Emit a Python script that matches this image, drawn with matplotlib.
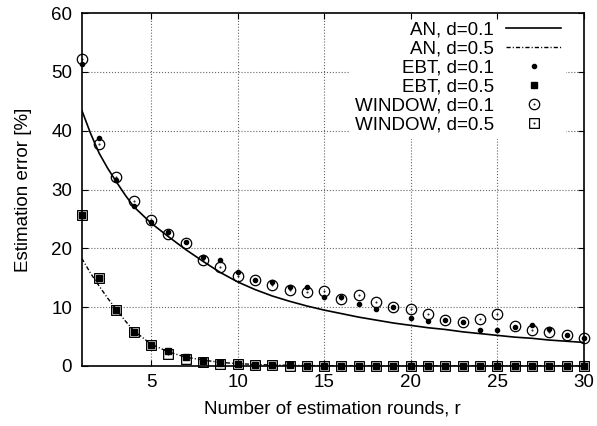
import matplotlib
matplotlib.use('Agg')
import matplotlib.pyplot as plt
from matplotlib.path import Path
from matplotlib.markers import MarkerStyle
import numpy as np

plt.rcParams['font.family'] = ['Liberation Sans', 'DejaVu Sans']
plt.rcParams['font.size'] = 13.5

# rounds
r = np.arange(1, 31)

# analytical curves
an_x = [1, 1.5, 2, 2.5, 3, 3.5, 4, 5, 6, 7, 8, 9, 10, 11, 12, 13, 14, 15,
        16, 17, 18, 19, 20, 21, 22, 23, 24, 25, 26, 27, 28, 29, 30]
an_01 = [43.5, 39.6, 36.2, 33.6, 31.3, 29.1, 27.1, 24.3, 22.0, 19.8, 17.8, 15.9,
         14.3, 13.0, 11.9, 11.0, 10.2, 9.5, 8.9, 8.3, 7.8, 7.3, 6.9, 6.5, 6.2,
         5.8, 5.5, 5.2, 4.9, 4.7, 4.4, 4.2, 4.0]
an_05 = [18.3, 15.8, 13.6, 11.5, 9.6, 7.7, 6.0, 3.7, 2.4, 1.5, 1.0, 0.6, 0.4,
         0.25, 0.15, 0.1, 0.06, 0.04, 0.02, 0.01, 0, 0, 0, 0, 0, 0, 0, 0, 0,
         0, 0, 0, 0]

# simulation results
ebt_01 = [51.3, 38.8, 31.6, 27.2, 24.5, 22.7, 21.1, 18.5, 18.0, 15.9,
          14.6, 14.2, 13.4, 13.4, 11.8, 11.7, 10.5, 9.6, 10.0, 8.2,
          7.6, 7.8, 7.4, 6.1, 6.1, 6.6, 7.0, 6.2, 5.3, 4.8]
win_01 = [52.2, 37.7, 32.2, 28.1, 24.8, 22.4, 20.9, 18.1, 16.9, 15.3,
          14.6, 13.8, 13.0, 12.6, 12.8, 11.4, 12.1, 10.9, 10.0, 9.6,
          8.9, 7.8, 7.4, 8.0, 8.9, 6.8, 6.1, 5.7, 5.2, 4.8]
ebt_05 = [25.7, 14.9, 9.5, 5.8, 3.6, 2.55, 1.5, 0.8, 0.45, 0.3,
          0.2, 0.15, 0.1, 0.05, 0, 0, 0, 0, 0, 0,
          0, 0, 0, 0, 0, 0, 0, 0, 0, 0]
win_05 = [25.7, 14.9, 9.5, 5.8, 3.6, 2.0, 1.2, 0.75, 0.4, 0.3,
          0.2, 0.1, 0.05, 0, 0, 0, 0, 0, 0, 0,
          0, 0, 0, 0, 0, 0, 0, 0, 0, 0]

xticks = [5, 10, 15, 20, 25, 30]
yticks = [0, 10, 20, 30, 40, 50, 60]

# circle / square with a dot in the middle (gnuplot style)
circ_dot = MarkerStyle(Path.make_compound_path(Path.unit_circle(),
                                               Path.circle((0, 0), 0.07)))
sq = Path.unit_rectangle()
sq = Path(sq.vertices - 0.5, sq.codes)
sq_dot = MarkerStyle(Path.make_compound_path(sq, Path.circle((0, 0), 0.04)))

fig = plt.figure(figsize=(5.97, 4.26), dpi=100)
ax = fig.add_axes([0.137, 0.141, 0.841, 0.828])

# dotted grid drawn by hand so the legend box can sit between grid and ticks
for xv in xticks[:-1]:
    ax.axvline(xv, ls=':', lw=0.8, color='0.4', zorder=1)
for yv in yticks[1:-1]:
    ax.axhline(yv, ls=':', lw=0.8, color='0.4', zorder=1)

ax.plot(an_x, an_01, color='black', lw=1.2, label='AN, d=0.1', zorder=3)
ax.plot(an_x, an_05, color='black', lw=1.0, dashes=(3, 1.5, 0.8, 1.5),
        label='AN, d=0.5', zorder=3)
ax.plot(r, ebt_01, 'o', color='black', ms=3, label='EBT, d=0.1',
        zorder=6, clip_on=False)
ax.plot(r, ebt_05, 's', color='black', ms=4.5, label='EBT, d=0.5',
        zorder=6, clip_on=False)
ax.plot(r, win_01, ls='none', marker=circ_dot, mfc='none', mec='black',
        mew=0.9, ms=7.5, label='WINDOW, d=0.1', zorder=5, clip_on=False)
ax.plot(r, win_05, ls='none', marker=sq_dot, mfc='none', mec='black',
        mew=0.9, ms=7.0, label='WINDOW, d=0.5', zorder=5, clip_on=False)

ax.set_xlim(1, 30)
ax.set_ylim(0, 60)
ax.set_xticks(xticks)
ax.set_yticks(yticks)
ax.set_axisbelow(False)
ax.tick_params(direction='in', top=True, right=True, length=4, width=0.8,
               labelsize=13.5)
ax.tick_params(axis='x', pad=6)
ax.tick_params(axis='y', pad=7)
for s in ax.spines.values():
    s.set_linewidth(1.2)
    s.set_zorder(8)

ax.set_xlabel('Number of estimation rounds, r', fontsize=13.5, labelpad=7)
ax.set_ylabel('Estimation error [%]', fontsize=13.5, labelpad=14)

leg = ax.legend(loc='upper right', bbox_to_anchor=(0.964, 0.989),
                markerfirst=False, frameon=True, fancybox=False,
                edgecolor='none', facecolor='white', framealpha=1,
                handlelength=2.93, handletextpad=0.64, labelspacing=0.1,
                borderpad=0.25, borderaxespad=0, fontsize=13.5)
for t in leg.get_texts():
    t.set_ha('right')
leg.set_zorder(2)

fig.savefig('out.png', dpi=100)
